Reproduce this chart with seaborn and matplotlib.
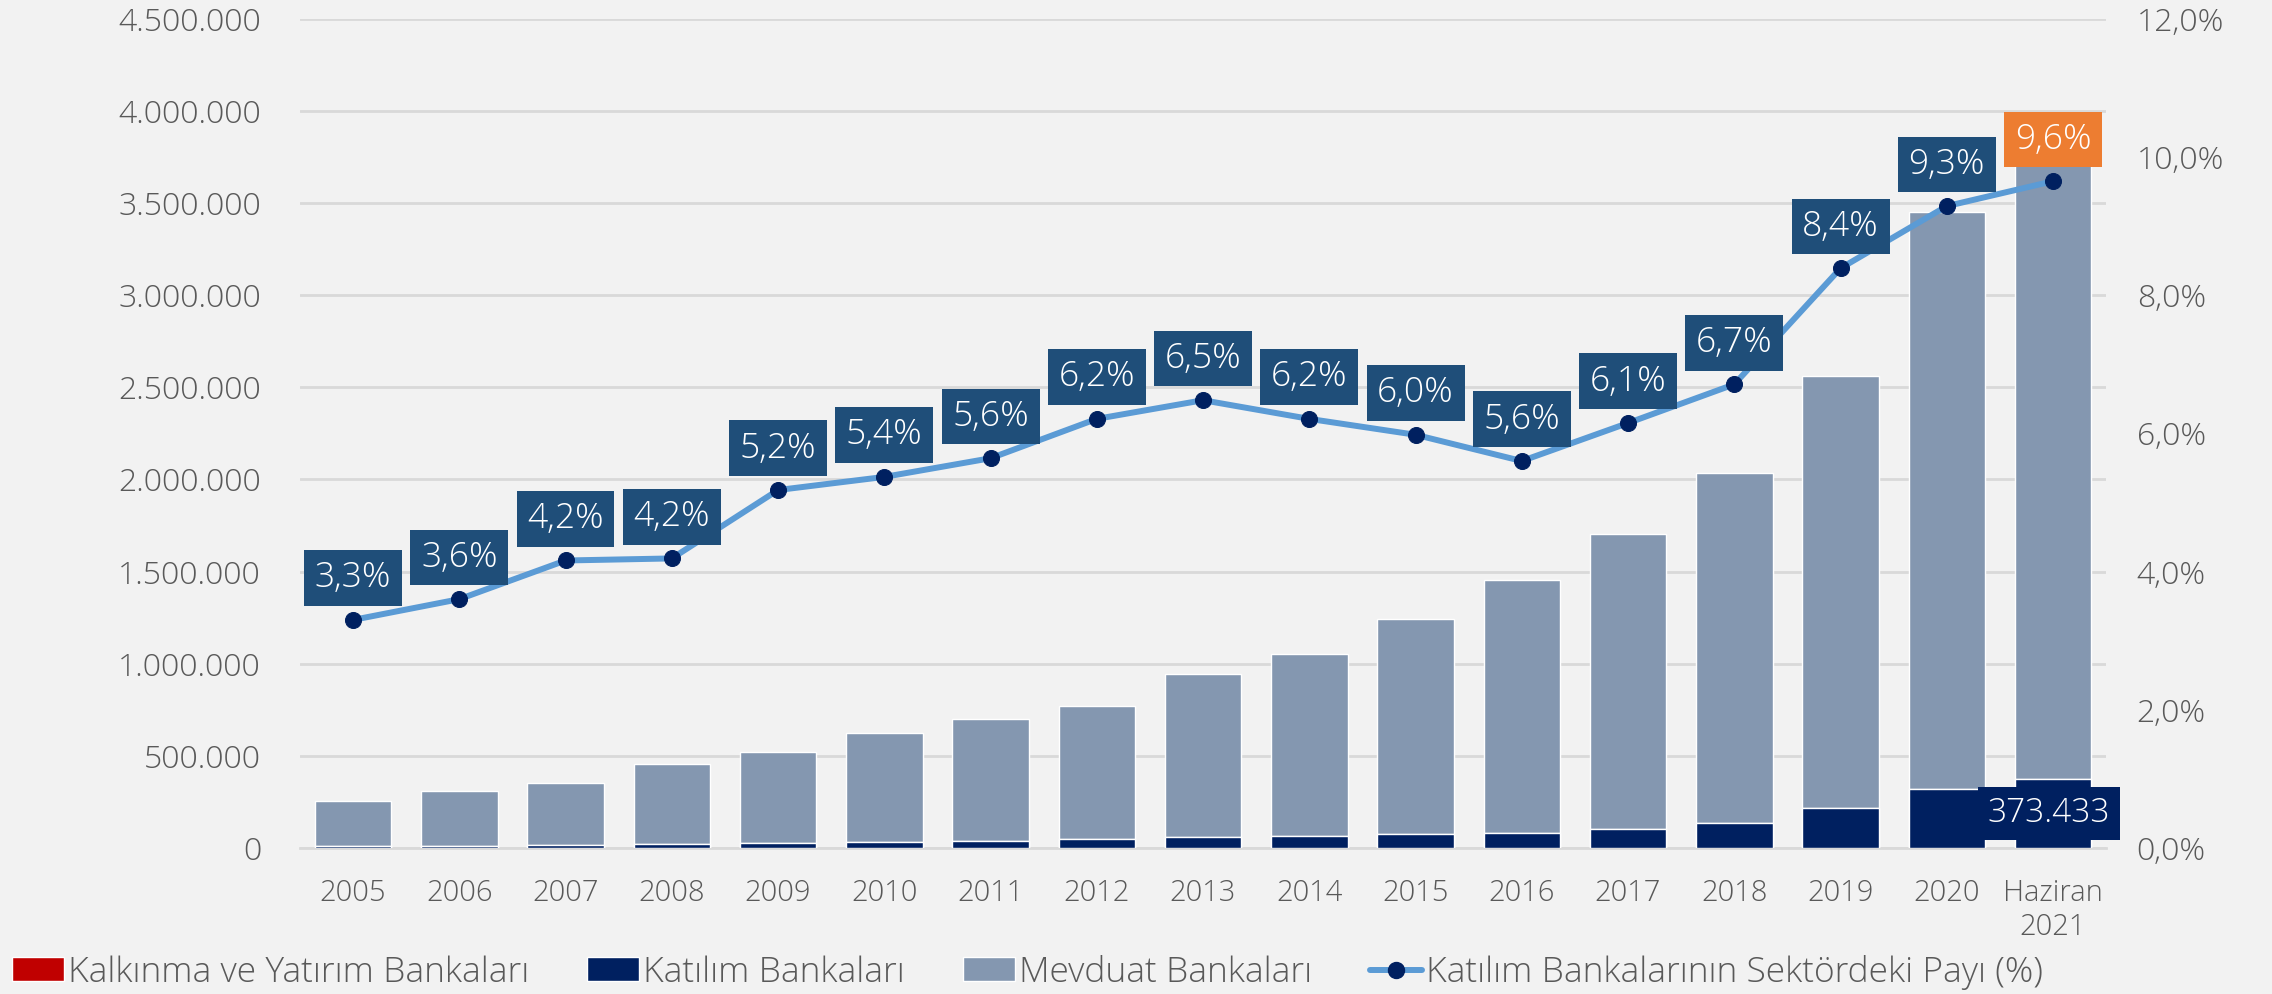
import numpy as np
import pandas as pd
import matplotlib
matplotlib.use("Agg")
import matplotlib.pyplot as plt
import seaborn as sns
from matplotlib.patches import Patch
from matplotlib.lines import Line2D
from matplotlib.ticker import FuncFormatter, FixedLocator

# ---- data ----
categories = ["2005", "2006", "2007", "2008", "2009", "2010", "2011", "2012", "2013",
              "2014", "2015", "2016", "2017", "2018", "2019", "2020", "Haziran\n2021"]
katilim = [8300, 11000, 14800, 19100, 27000, 33500, 39200, 47800, 61300,
           65300, 74500, 81400, 104000, 136500, 215000, 321000, 373433]
mevduat = [243700, 296000, 339200, 436900, 492000, 587500, 660800, 722200, 881700,
           987700, 1167500, 1372600, 1602000, 1899500, 2348000, 3130000, 3517000]
kalkinma = [0] * 17
share = [3.3, 3.6, 4.16, 4.19, 5.18, 5.37, 5.64, 6.21, 6.48,
         6.21, 5.98, 5.60, 6.15, 6.71, 8.39, 9.29, 9.65]
share_labels = ["3,3%", "3,6%", "4,2%", "4,2%", "5,2%", "5,4%", "5,6%", "6,2%", "6,5%",
                "6,2%", "6,0%", "5,6%", "6,1%", "6,7%", "8,4%", "9,3%", "9,6%"]
left_ticks = [0, 500000, 1000000, 1500000, 2000000, 2500000, 3000000, 3500000, 4000000, 4500000]
right_ticks = [0, 2, 4, 6, 8, 10, 12]

legend_labels = ["Kalkınma ve Yatırım Bankaları", "Katılım Bankaları", "Mevduat Bankaları",
                 "Katılım Bankalarının Sektördeki Payı (%)"]

# ---- style ----
BG = "#F2F2F2"
C_KALK = "#C00000"
C_KAT = "#002060"
C_MEV = "#8497B0"
C_LINE = "#5B9BD5"
C_LBL = "#1F4E79"
C_ORANGE = "#ED7D31"
C_TXT = "#595959"
C_GRID = "#D9D9D9"

sns.set_theme(style="white")
plt.rcParams["font.family"] = ["Open Sans", "DejaVu Sans"]
plt.rcParams["font.weight"] = "light"

df = pd.DataFrame({"cat": categories, "kat": katilim, "mev": mevduat, "kalk": kalkinma})
df["total"] = df["kat"] + df["mev"] + df["kalk"]
df["kat_kalk"] = df["kat"] + df["kalk"]

fig = plt.figure(figsize=(22.72, 9.94), dpi=100, facecolor=BG)
ax = fig.add_axes([0.132, 0.147, 0.795, 0.834])
ax.set_facecolor(BG)

sns.barplot(data=df, x="cat", y="total", color=C_MEV, width=0.72, ax=ax,
            saturation=1, zorder=2, order=categories)
sns.barplot(data=df, x="cat", y="kat_kalk", color=C_KALK, width=0.72, ax=ax,
            saturation=1, zorder=3, order=categories)
sns.barplot(data=df, x="cat", y="kat", color=C_KAT, width=0.72, ax=ax,
            saturation=1, zorder=4, order=categories)

ax.set_ylim(0, 4500000)
ax.set_xlim(-0.5, len(categories) - 0.5)
ax.yaxis.set_major_locator(FixedLocator(left_ticks))
ax.yaxis.set_major_formatter(FuncFormatter(lambda v, p: f"{int(v):,}".replace(",", ".")))
ax.grid(axis="y", color=C_GRID, linewidth=2, zorder=0)
ax.set_axisbelow(True)
ax.set_xlabel("")
ax.set_ylabel("")
for s in ["top", "left", "right"]:
    ax.spines[s].set_visible(False)
ax.spines["bottom"].set_color(C_GRID)
ax.spines["bottom"].set_linewidth(2)
ax.tick_params(axis="y", length=0, labelsize=23, labelcolor=C_TXT, pad=28)
ax.tick_params(axis="x", which="major", length=0, labelsize=21, labelcolor=C_TXT, pad=22)
ax.set_xticks(np.arange(-0.5, len(categories), 1.0), minor=True)
ax.tick_params(axis="x", which="minor", length=12, width=2, color=C_GRID)

# value label for last katilim bar
ax.annotate(f"{katilim[-1]:,}".replace(",", "."), xy=(len(categories) - 1, katilim[-1] / 2),
            xytext=(-3, 0), textcoords="offset points",
            ha="center", va="center", color="white", fontsize=24, zorder=10,
            bbox=dict(boxstyle="square,pad=0.3", fc=C_KAT, ec="none"))

# ---- line on secondary axis ----
ax2 = ax.twinx()
xs = np.arange(len(categories))
sns.lineplot(x=xs, y=share, ax=ax2, color=C_LINE, linewidth=4.3, marker="o",
             markersize=11.5, markerfacecolor=C_KAT, markeredgecolor=C_KAT, zorder=5)
ax2.set_ylim(0, 12)
ax2.yaxis.set_major_locator(FixedLocator(right_ticks))
ax2.yaxis.set_major_formatter(FuncFormatter(lambda v, p: f"{v:.1f}%".replace(".", ",")))
ax2.tick_params(axis="y", length=0, labelsize=23, labelcolor=C_TXT, pad=22)
for s in ax2.spines.values():
    s.set_visible(False)
ax2.set_ylabel("")
ax2.grid(False)

for i, (v, t) in enumerate(zip(share, share_labels)):
    fc = C_ORANGE if i == len(share) - 1 else C_LBL
    ax2.annotate(t, xy=(i, v), xytext=(0, 30), textcoords="offset points",
                 ha="center", va="center", color="white", fontsize=25.5, zorder=10,
                 bbox=dict(boxstyle="square,pad=0.3", fc=fc, ec="none"))

# ---- legend ----
handles = [Patch(facecolor=C_KALK), Patch(facecolor=C_KAT), Patch(facecolor=C_MEV),
           Line2D([0], [0], color=C_LINE, linewidth=4.3, marker="o", markersize=11.5,
                  markerfacecolor=C_KAT, markeredgecolor=C_KAT)]
fig.legend(handles, legend_labels, loc="lower left", bbox_to_anchor=(-0.004, -0.017),
           ncol=4, frameon=False, fontsize=25.5, labelcolor=C_TXT, handlelength=1.45,
           handleheight=0.65, handletextpad=0.12, columnspacing=1.65, borderaxespad=0.2)

fig.savefig("out.png", dpi=100, facecolor=BG)
